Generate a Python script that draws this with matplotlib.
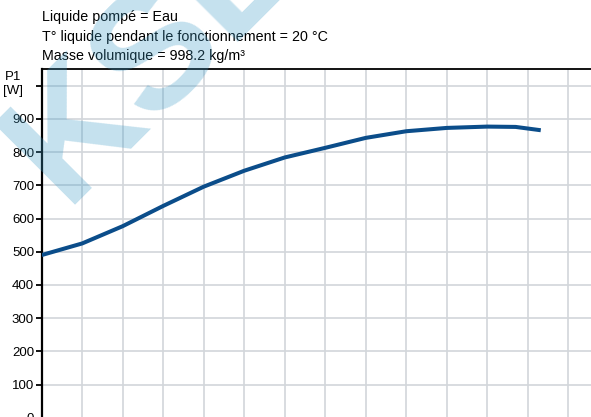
import matplotlib.pyplot as plt
import numpy as np

plt.rcParams['font.family'] = ['Liberation Sans', 'DejaVu Sans']

# debit (unites de grille) et puissance absorbee P1 [W]
q = [0, 1, 2, 3, 4, 5, 6, 7, 8, 9, 10, 11, 11.7, 12.32]
p1 = [490, 525, 577, 638, 696, 744, 784, 813, 843, 863, 873, 877, 876, 866]
yticks = [0, 100, 200, 300, 400, 500, 600, 700, 800, 900, 1000]
ylabels = ['0', '100', '200', '300', '400', '500', '600', '700', '800', '900', '']
infos = ['Liquide pompé = Eau',
         'T° liquide pendant le fonctionnement = 20 °C',
         'Masse volumique = 998.2 kg/m³']

fig = plt.figure(figsize=(5.91, 4.17), dpi=100)
ax = fig.add_axes([41.7 / 591, -0.7 / 417, 1 - 41.7 / 591, 349.2 / 417])

ax.plot(q, p1, color='#0b4d8a', lw=2.9, solid_capstyle='butt',
        solid_joinstyle='round', zorder=3)

ax.set_xlim(0, 13.56)
ax.set_ylim(0, 1052)
ax.set_xticks(np.arange(0, 14, 1))
ax.set_xticklabels([])
ax.set_yticks(yticks)
ax.set_yticklabels(ylabels, fontsize=9.5)
ax.tick_params(axis='x', length=0)
ax.tick_params(axis='y', length=4.5, width=1.3, pad=1, direction='out')
ax.grid(True, color='#d2d6da', lw=1.2)
ax.set_axisbelow(True)

ax.spines['left'].set_linewidth(1.6)
ax.spines['top'].set_linewidth(1.3)
ax.spines['bottom'].set_linewidth(1.3)
ax.spines['right'].set_visible(False)

fig.text(13 / 591, 1 - 84 / 417, 'P1\n[W]', ha='center', va='center',
         fontsize=9.5, linespacing=1.15)

for i, t in enumerate(infos):
    fig.text(42 / 591, 1 - (21 + 19.5 * i) / 417, t, fontsize=10.3,
             ha='left', va='baseline')

# filigrane
fig.text(-0.035, 0.88, 'KSB', fontsize=120, fontweight='bold', rotation=45,
         color='#3e9bc6', alpha=0.3, ha='left', va='center', zorder=10)

fig.savefig('out.png', dpi=100)
